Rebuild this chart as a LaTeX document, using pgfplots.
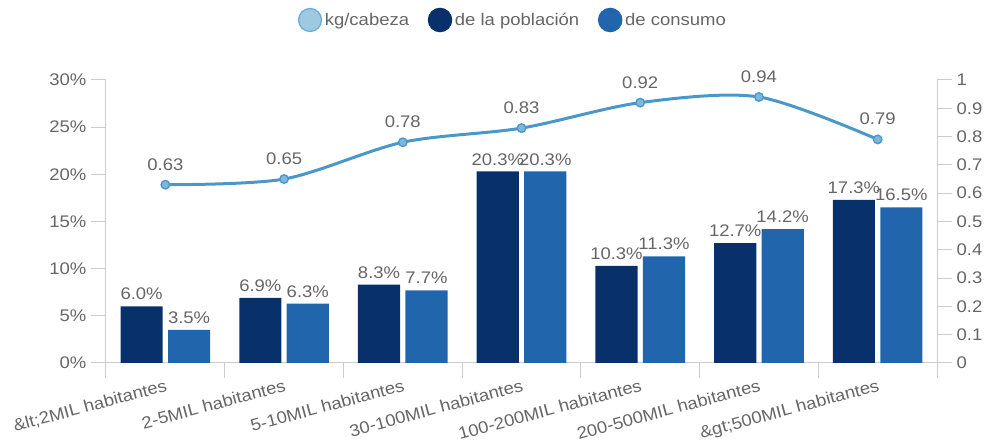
\documentclass[border=0pt]{standalone}
\usepackage{pgfplots}
\pgfplotsset{compat=1.18}
\usepackage{fontspec}
\setmainfont{Liberation Sans}[FakeStretch=1.1]
\definecolor{dark}{HTML}{08306B}
\definecolor{mid}{HTML}{2166AC}
\definecolor{linec}{HTML}{4A98C9}
\definecolor{markf}{HTML}{7DB7DD}
\definecolor{legl}{HTML}{9ECAE1}
\definecolor{legb}{HTML}{6BAED6}
\definecolor{txt}{HTML}{666666}
\definecolor{axc}{HTML}{CCCCCC}
\begin{document}
\begin{tikzpicture}
\path[use as bounding box] (-79.5pt,-58.5pt) rectangle (660.75pt,272.25pt);
\pgfplotsset{every axis/.append style={
  width=623.25pt, height=212.25pt, scale only axis,
  at={(0,0)}, anchor=south west,
  xmin=-0.5, xmax=6.5,
  font=\fontsize{12.6}{15}\selectfont,
  tick label style={text=txt, font=\fontsize{12.6}{15}\selectfont},
  /pgf/number format/assume math mode=true,
  axis line style={axc, line width=0.75pt, -},
  tick style={axc, line width=0.75pt},
  tick align=outside,
  major tick length=11.25pt,
}}
\begin{axis}[
  ymin=0, ymax=30,
  axis x line*=bottom, axis y line*=left,
  ytick={0,5,10,15,20,25,30},
  yticklabel={\pgfmathprintnumber{\tick}\%},
  xtick={-0.5,0.5,1.5,2.5,3.5,4.5,5.5,6.5},
  x tick label as interval,
  xticklabels={\&lt;2MIL habitantes, 2-5MIL habitantes, 5-10MIL habitantes, 30-100MIL habitantes, 100-200MIL habitantes, 200-500MIL habitantes, \&gt;500MIL habitantes},
  xticklabel style={rotate=15, anchor=north east, inner sep=0.5pt},
  legend style={at={(0.49,1.212)}, anchor=center, draw=none, fill=none,
    text=txt, font=\fontsize{12.6}{15}\selectfont,
    /tikz/every even column/.append style={column sep=12pt}},
  legend columns=3,
  legend cell align=left,
  nodes near coords={\pgfmathprintnumber[fixed,fixed zerofill,precision=1]{\pgfplotspointmeta}\%},
  nodes near coords style={text=txt, anchor=south, inner sep=2pt, yshift=2.5pt, font=\fontsize{12.6}{15}\selectfont},
]
\addlegendimage{legend image code/.code={\draw[draw=legb, fill=legl, line width=1pt] (8.8pt,0) circle (8.6pt);}}
\addlegendentry{kg/cabeza}
\addplot[ybar, bar width=0.355, bar shift=-0.2, fill=dark, draw=none,
  every node near coord/.append style={xshift=-17.8pt},
  legend image code/.code={\fill[dark] (8.8pt,0) circle (9.2pt);}]
  coordinates {(0,6.0) (1,6.9) (2,8.3) (3,20.3) (4,10.3) (5,12.7) (6,17.3)};
\addlegendentry{de la población}
\addplot[ybar, bar width=0.355, bar shift=0.2, fill=mid, draw=none,
  every node near coord/.append style={xshift=17.8pt},
  legend image code/.code={\fill[mid] (8.8pt,0) circle (9.2pt);}]
  coordinates {(0,3.5) (1,6.3) (2,7.7) (3,20.3) (4,11.3) (5,14.2) (6,16.5)};
\addlegendentry{de consumo}
\end{axis}
\begin{axis}[
  ymin=0, ymax=1,
  axis y line*=right, axis x line=none,
  ytick={0,0.1,0.2,0.3,0.4,0.5,0.6,0.7,0.8,0.9,1},
  yticklabel style={/pgf/number format/fixed, /pgf/number format/precision=1},
]
\addplot[linec, line width=2.25pt, smooth, mark=*, mark size=3.2pt,
  mark options={fill=markf, draw=linec, line width=1pt},
  nodes near coords={\pgfmathprintnumber[fixed,fixed zerofill,precision=2]{\pgfplotspointmeta}},
  nodes near coords style={text=txt, anchor=south, yshift=7pt, font=\fontsize{12.6}{15}\selectfont}]
  coordinates {(0,0.63) (1,0.65) (2,0.78) (3,0.83) (4,0.92) (5,0.94) (6,0.79)};
\end{axis}
\end{tikzpicture}
\end{document}
